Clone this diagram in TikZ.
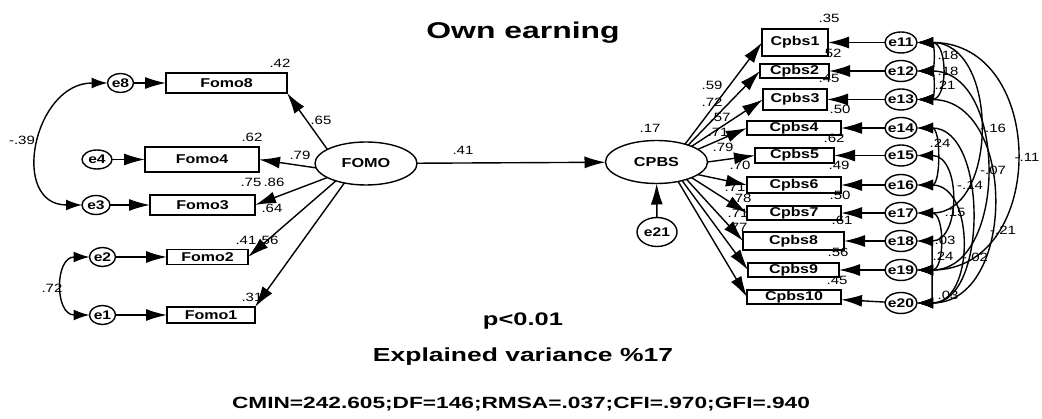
\documentclass[tikz,border=0pt]{standalone}
\usepackage{fontspec}
\setmainfont{Liberation Sans}
\newfontfamily\af[FakeStretch=1.25]{Liberation Sans}
\newfontfamily\tf[FakeStretch=1.4]{Liberation Sans}
\usetikzlibrary{shapes.geometric,arrows.meta}
\begin{document}
\begin{tikzpicture}[x=1pt,y=-1pt,
  every node/.style={inner sep=0pt, outer sep=0pt},
  obs/.style={draw, line width=1.4pt, rectangle, font=\af\bfseries\fontsize{12.8}{13}\selectfont},
  lat/.style={draw, line width=1.4pt, ellipse, minimum width=102pt, minimum height=43pt, font=\af\bfseries\fontsize{13}{13}\selectfont},
  err/.style={draw, line width=1.4pt, ellipse, minimum width=27pt, minimum height=19pt},
  errr/.style={err, minimum width=32pt, minimum height=21pt},
  etxt/.style={font=\af\bfseries\fontsize{12.5}{13}\selectfont},
  val/.style={font=\af\fontsize{12}{12}\selectfont},
  big/.style={font=\tf\bfseries\fontsize{#1}{#1}\selectfont, anchor=base},
  reg/.style={line width=1.4pt, -{Latex[length=21pt,width=12pt]}},
  cov/.style={line width=1.4pt, {Latex[length=16pt,width=11pt]}-{Latex[length=16pt,width=11pt]}},
]
\useasboundingbox[fill=white] (0,0) rectangle (1042,419);

% titles
\node[big=22.8] (title) at (523,39) {Own earning};
\node[big=18.2] (pval) at (523,326) {p<0.01};
\node[big=18.9] (expl) at (523,362) {Explained variance \%17};
\node[big=16.2] (fit) at (521,409) {CMIN=242.605;DF=146;RMSA=.037;CFI=.970;GFI=.940};

% ---------- left block ----------
\node[obs, minimum width=121pt, minimum height=20pt] (F8) at (226.5,83) {Fomo8};
\node[obs, minimum width=114pt, minimum height=25pt] (F4) at (202,159.5) {Fomo4};
\node[obs, minimum width=105pt, minimum height=20pt] (F3) at (202.5,205) {Fomo3};
\node[obs, minimum width=81pt, minimum height=15pt] (F2) at (207.5,257) {Fomo2};
\node[obs, minimum width=88pt, minimum height=16pt] (F1) at (211,315) {Fomo1};

\node[err, minimum width=26pt] (e8) at (120.5,83) {};
\node[err, minimum width=30pt] (e4) at (97,159.5) {};
\node[err, minimum width=28pt] (e3) at (96,205) {};
\node[err, minimum width=26pt] (e2) at (102.5,257) {};
\node[err, minimum width=26pt] (e1) at (102.5,315) {};
\foreach \n in {e8,e4,e3,e2,e1} \node[etxt] (t\n) at (\n) {\n};

\node[lat] (FOMO) at (366,163.5) {FOMO};

% left labels
\node[val] (l42) at (280,63) {.42};
\node[val] (l65) at (321,120) {.65};
\node[val] (l62) at (252,137) {.62};
\node[val] (l79) at (300,155) {.79};
\node[val] (l75) at (251,182) {.75};
\node[val] (l86) at (274,182) {.86};
\node[val] (l64) at (272,208) {.64};
\node[val] (l41a) at (246,240) {.41};
\node[val] (l56) at (268,240) {.56};
\node[val] (l31) at (252,297) {.31};
\node[val] (lm39) at (22,140) {-.39};
\node[val] (l72) at (52,288) {.72};

\draw[reg] (e8) -- (F8);
\draw[reg] (e4) -- (F4);
\draw[reg] (e3) -- (F3);
\draw[reg] (e2) -- (F2);
\draw[reg] (e1) -- (F1);
\draw[reg] (FOMO.160) -- (F8.south east);
\draw[reg] (FOMO.185) -- (F4.east);
\draw[reg] (FOMO.200) -- (F3.east);
\draw[reg] (FOMO.210) -- (F2.east);
\draw[reg] (FOMO.222) -- (F1.north east);
\draw[cov] (e8) .. controls +(-87,0) and +(-87,0) .. (e3);
\draw[cov] (e2) .. controls +(-48,0) and +(-48,0) .. (e1);

% ---------- centre ----------
\node[lat] (CPBS) at (656.5,162) {CPBS};
\node[err, minimum width=40pt, minimum height=29pt] (e21) at (657,232) {};
\node[etxt] (te21) at (e21) {e21};
\node[val] (l41) at (463,150) {.41};
\node[val] (l17) at (650,128) {.17};
\draw[reg] (FOMO) -- (CPBS);
\draw[reg] (e21) -- (CPBS);

% ---------- right block ----------
\node[obs, minimum width=66pt, minimum height=27pt] (C1) at (795,42.5) {Cpbs1};
\node[obs, minimum width=69pt, minimum height=14pt] (C2) at (794.5,71) {Cpbs2};
\node[obs, minimum width=64pt, minimum height=21pt] (C3) at (795,99.5) {Cpbs3};
\node[obs, minimum width=94pt, minimum height=14pt] (C4) at (794,128) {Cpbs4};
\node[obs, minimum width=79pt, minimum height=15pt] (C5) at (794.5,155.5) {Cpbs5};
\node[obs, minimum width=94pt, minimum height=16pt] (C6) at (794,185) {Cpbs6};
\node[obs, minimum width=94pt, minimum height=14pt] (C7) at (794,213) {Cpbs7};
\node[obs, minimum width=101pt, minimum height=18pt] (C8) at (793.5,241) {Cpbs8};
\node[obs, minimum width=91pt, minimum height=14pt] (C9) at (793.5,270) {Cpbs9};
\node[obs, minimum width=94pt, minimum height=14pt] (C10) at (794,297) {Cpbs10};

\node[errr] (e11) at (901,42.5) {};
\node[errr] (e12) at (901,71) {};
\node[errr] (e13) at (901,99.5) {};
\node[errr] (e14) at (901,128) {};
\node[errr] (e15) at (901,155.5) {};
\node[errr] (e16) at (901,185) {};
\node[errr] (e17) at (901,213) {};
\node[errr] (e18) at (901,241) {};
\node[errr] (e19) at (901,270) {};
\node[errr] (e20) at (901,303) {};
\foreach \n in {e11,e12,e13,e14,e15,e16,e17,e18,e19,e20} \node[etxt] (t\n) at (\n) {\n};

% loadings
\node[val] (k1) at (712,85) {.59};
\node[val] (k2) at (712,102) {.72};
\node[val] (k3) at (720,117) {.57};
\node[val] (k4) at (718,132) {.71};
\node[val] (k5) at (723,147) {.79};
\node[val] (k6) at (740,165) {.70};
\node[val] (k7) at (735,187) {.71};
\node[val] (k8) at (741,198) {.78};
\node[val] (k9) at (738,213) {.71};
\node[val] (k10) at (737,227) {.77};
% R squared
\node[val] (r1) at (829,18) {.35};
\node[val] (r2) at (831,53) {.52};
\node[val] (r3) at (829,78) {.45};
\node[val] (r4) at (840,109) {.50};
\node[val] (r5) at (834,138) {.62};
\node[val] (r6) at (839,165) {.49};
\node[val] (r7) at (840,195) {.50};
\node[val] (r8) at (842,220) {.61};
\node[val] (r9) at (838,252) {.56};
\node[val] (r10) at (837,280) {.45};
% covariances
\node[val] (c1) at (948,55) {.18};
\node[val] (c2) at (948,71) {.18};
\node[val] (c3) at (945,85) {.21};
\node[val] (c4) at (993,128) {-.16};
\node[val] (c5) at (940,143) {.24};
\node[val] (c6) at (1027,157) {-.11};
\node[val] (c7) at (993,170) {-.07};
\node[val] (c8) at (970,185) {-.14};
\node[val] (c9) at (955,212) {.15};
\node[val] (c10) at (1003,230) {-.21};
\node[val] (c11) at (945,240) {.03};
\node[val] (c12) at (943,256) {.24};
\node[val] (c13) at (975,257) {-.02};
\node[val] (c14) at (948,295) {.03};

\foreach \i/\a in {1/32,2/28,3/24,4/17,5/0,6/-17,7/-24,8/-30,9/-36,10/-42}
  \draw[reg] (CPBS.\a) -- (C\i.west);
\foreach \i/\e in {1/e11,2/e12,3/e13,4/e14,5/e15,6/e16,7/e17,8/e18,9/e19,10/e20}
  \draw[reg] (\e) -- (C\i);

\foreach \a/\b/\d in {e11/e12/34, e12/e13/34, e11/e13/47, e11/e19/147, e11/e17/98,
  e12/e19/107, e13/e20/116, e14/e16/40, e16/e20/74, e15/e18/60, e17/e19/44,
  e18/e19/31, e14/e20/87, e19/e20/31}
  \draw[cov] (\a) .. controls +(\d,0) and +(\d,0) .. (\b);
\end{tikzpicture}
\end{document}
